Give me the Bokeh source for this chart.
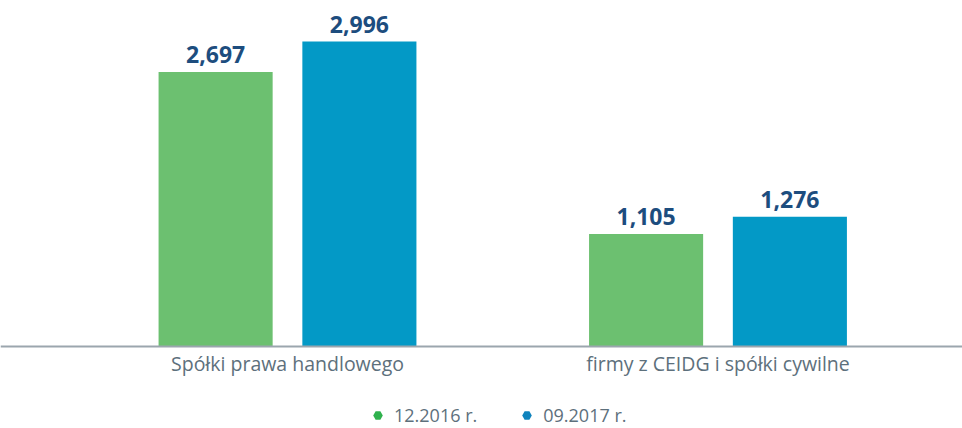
from bokeh.plotting import figure
from bokeh.models import ColumnDataSource, Range1d, FixedTicker, Legend, LegendItem
from bokeh.transform import dodge
from bokeh.core.properties import value
from bokeh.embed import file_html
from bokeh.resources import INLINE

categories = ["Spółki prawa handlowego", "firmy z CEIDG i spółki cywilne"]
series_names = ["12.2016 r.", "09.2017 r."]
values_2016 = [2697, 1105]
values_2017 = [2996, 1276]
label_2016 = ["2,697", "1,105"]
label_2017 = ["2,996", "1,276"]

xpos = list(range(1, len(categories) + 1))

FONT = "Open Sans"
GREEN = "#6cc070"
BLUE = "#0399c6"
LABEL = "#1d4d7e"
TEXT = "#5d707c"

src1 = ColumnDataSource(dict(x=xpos, v=values_2016, lbl=label_2016))
src2 = ColumnDataSource(dict(x=xpos, v=values_2017, lbl=label_2017))

p = figure(width=962, height=428, output_backend="svg", toolbar_location=None,
           x_range=Range1d(0.3333, 2.568), y_range=Range1d(-805, 3399),
           min_border=0)

off = 0.167
bw = 0.265
p.vbar(x=dodge("x", -off, range=p.x_range), top="v", width=bw, source=src1,
       fill_color=GREEN, line_color=None)
p.vbar(x=dodge("x", off, range=p.x_range), top="v", width=bw, source=src2,
       fill_color=BLUE, line_color=None)

for s, o in ((src1, -off), (src2, off)):
    p.text(x=dodge("x", o, range=p.x_range), y="v", text="lbl", source=s,
           text_font=value(FONT), text_font_style="bold", text_font_size="23px",
           text_color=LABEL, text_align="center", text_baseline="bottom", y_offset=-9)

# legend markers: zero-size scatter (only its legend glyph is visible)
r1 = p.scatter(x=dodge("x", -off, range=p.x_range), y="v", source=src1, size=0,
               marker="hex", fill_color="#2fb14d", line_color=None)
r2 = p.scatter(x=dodge("x", off, range=p.x_range), y="v", source=src2, size=0,
               marker="hex", fill_color="#0f83bd", line_color=None)
legend = Legend(items=[LegendItem(label=series_names[0], renderers=[r1]),
                       LegendItem(label=series_names[1], renderers=[r2])],
                orientation="horizontal", location=(364, 1),
                glyph_width=27, glyph_height=24, label_standoff=3, spacing=36,
                padding=0, margin=0, border_line_color=None, background_fill_alpha=0,
                label_text_font=FONT, label_text_font_size="18px", label_text_color=TEXT)
p.add_layout(legend, "center")

p.xaxis.fixed_location = 0
p.xaxis.ticker = FixedTicker(ticks=xpos)
p.xaxis.major_label_overrides = {x: c for x, c in zip(xpos, categories)}
p.xaxis.major_tick_line_color = None
p.xaxis.minor_tick_line_color = None
p.xaxis.axis_line_color = "#9ba6ae"
p.xaxis.axis_line_width = 2
p.xaxis.major_label_standoff = -3
p.xaxis.major_label_text_font = FONT
p.xaxis.major_label_text_font_size = "19.5px"
p.xaxis.major_label_text_color = TEXT
p.yaxis.visible = False
p.xgrid.visible = False
p.ygrid.visible = False
p.outline_line_color = None

open("out.html", "w").write(file_html(p, INLINE))
